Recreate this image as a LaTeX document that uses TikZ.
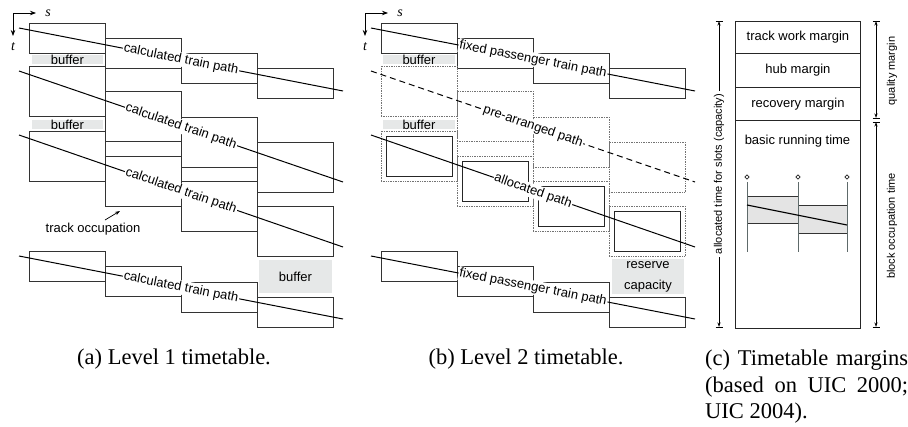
\documentclass[tikz,border=0pt]{standalone}
\usepackage{fontspec}
\setmainfont{Liberation Serif}
\newfontfamily\lab{Liberation Sans}
\usetikzlibrary{arrows.meta,shapes.geometric,calc}
\definecolor{bufgray}{HTML}{E6E8E8}
\definecolor{boxgray}{HTML}{E4E4E4}
\definecolor{slate}{HTML}{5E6A6A}
\newcommand\blkrow[5]{\foreach \yt [count=\i] in {#5}{\node[#2, minimum height=#3pt] (#1\i) at ({#4+29+76*(\i-1)},\yt) {};}}
\begin{document}
\begin{tikzpicture}[x=1pt,y=-1pt,
  lf/.style={font=\lab\fontsize{13}{15}\selectfont},
  sf/.style={font=\lab\fontsize{11}{13}\selectfont},
  cf/.style={font=\fontsize{22.5}{27}\selectfont},
  itf/.style={font=\itshape\fontsize{14}{16}\selectfont, inner sep=0pt},
  blk/.style={draw=black!80, line width=0.9pt, minimum width=76pt, inner sep=0pt, outer sep=0pt, anchor=north west},
  dotblk/.style={draw=black!55, densely dotted, line width=0.7pt, minimum width=76pt, inner sep=0pt, outer sep=0pt, anchor=north west},
  inblk/.style={draw=black!85, line width=0.9pt, minimum width=66pt, minimum height=40.5pt, inner sep=0pt},
  tpath/.style={line width=1pt, black},
  lbl/.style={lf, fill=white, inner sep=1pt, sloped, pos=0.5},
  buf/.style={lf, fill=bufgray, inner sep=0pt, text height=9pt, text depth=0pt},
  axis/.style={-{Stealth[length=6pt,width=4.5pt]}, line width=0.8pt},
  dimarrow/.style={{Stealth[length=4.5pt,width=3pt]}-{Stealth[length=4.5pt,width=3pt]}, line width=0.8pt},
  barline/.style={line width=0.8pt},
  mk/.style={diamond, draw=black!85, fill=white, line width=0.7pt, minimum size=4.5pt, inner sep=0pt},
  cbox/.style={draw=black!85, line width=0.9pt, minimum width=125pt, anchor=north west, inner sep=0pt, lf},
]
\fill[white] (0,0) rectangle (908,426);
\useasboundingbox (0,0) rectangle (908,426);

% ================= panel (a)
\coordinate (ao) at (13,13); \coordinate (aox) at (36,13); \coordinate (aoy) at (13,36);
\draw[axis] (ao) -- (aox);
\draw[axis] (ao) -- (aoy);
\node[itf] (as) at (48,13) {s};
\node[itf] (at) at (13,47) {t};

\node[buf, minimum width=71pt, minimum height=9pt] (abuf1) at (67.5,59.5) {buffer};
\node[buf, minimum width=71pt, minimum height=9pt] (abuf2) at (67.5,124.5) {buffer};
\node[buf, minimum width=73pt, minimum height=33pt] (abuf3) at (295.5,276.5) {buffer};

\blkrow{a1}{blk}{30}{0}{23,38,53,68}
\blkrow{a2}{blk}{50.5}{0}{66,91,117,142}
\blkrow{a3}{blk}{50.5}{0}{131,156,181,206}
\blkrow{a4}{blk}{30}{0}{251,266,282,297}

\coordinate (a1s) at (19,28);  \coordinate (a1e) at (343,91);
\coordinate (a2s) at (19,71);  \coordinate (a2e) at (343,182);
\coordinate (a3s) at (19,135); \coordinate (a3e) at (343,247);
\coordinate (a4s) at (19,256); \coordinate (a4e) at (343,319);
\draw[tpath] (a1s) -- node[lbl]{calculated train path} (a1e);
\draw[tpath] (a2s) -- node[lbl]{calculated train path} (a2e);
\draw[tpath] (a3s) -- node[lbl]{calculated train path} (a3e);
\draw[tpath] (a4s) -- node[lbl]{calculated train path} (a4e);

\node[lf] (aocc) at (93,229) {track occupation};
\coordinate (aot) at (105,220); \coordinate (aoh) at (120,211);
\draw[-{Stealth[length=5pt,width=3.5pt]}, line width=0.7pt] (aot) -- (aoh);

\node[cf, anchor=base] (acap) at (174,364) {(a) Level 1 timetable.};

% ================= panel (b)
\coordinate (bo) at (365,13); \coordinate (box) at (388,13); \coordinate (boy) at (365,36);
\draw[axis] (bo) -- (box);
\draw[axis] (bo) -- (boy);
\node[itf] (bs) at (400,13) {s};
\node[itf] (bt) at (365,47) {t};

\node[buf, minimum width=72pt, minimum height=9pt] (bbuf1) at (419,59.5) {buffer};
\node[buf, minimum width=72pt, minimum height=9pt] (bbuf2) at (419,124.5) {buffer};
\node[fill=bufgray, minimum width=72pt, minimum height=35pt, inner sep=0pt, align=center, font=\lab\fontsize{13}{21}\selectfont] (bres) at (648,276.5) {reserve\\capacity};

\blkrow{b1}{blk}{30}{352}{23,38,53,68}
\blkrow{b2}{dotblk}{50.5}{352}{66,91,117,142}
\blkrow{b3}{dotblk}{50.5}{352}{131,156,181,206}
\foreach \i in {1,...,4}{\node[inblk] (bi\i) at (b3\i.center) {};}
\blkrow{b4}{blk}{30}{352}{251,266,282,297}

\coordinate (b1s) at (371,28);  \coordinate (b1e) at (695,91);
\coordinate (b2s) at (371,71);  \coordinate (b2e) at (695,182);
\coordinate (b3s) at (371,135); \coordinate (b3e) at (695,247);
\coordinate (b4s) at (371,256); \coordinate (b4e) at (695,319);
\draw[tpath] (b1s) -- node[lbl]{fixed passenger train path} (b1e);
\draw[tpath, dash pattern=on 6pt off 4pt] (b2s) -- node[lbl]{pre-arranged path} (b2e);
\draw[tpath] (b3s) -- node[lbl]{allocated path} (b3e);
\draw[tpath] (b4s) -- node[lbl]{fixed passenger train path} (b4e);

\node[cf, anchor=base] (bcap) at (526,364) {(b) Level 2 timetable.};

% ================= panel (c)
\node[cbox, minimum height=32pt] (ctw) at (735,21) {track work margin};
\node[cbox, minimum height=34pt] (chub) at (735,53) {hub margin};
\node[cbox, minimum height=33pt] (crec) at (735,87) {recovery margin};
\node[cbox, minimum height=208pt] (cbrt) at (735,120) {};
\node[lf] (cbrtt) at (797.5,141) {basic running time};

\node[fill=boxgray, draw=black!80, line width=0.8pt, minimum width=51pt, minimum height=27pt, anchor=north west, inner sep=0pt] (cg1) at (747,196) {};
\node[fill=boxgray, draw=black!80, line width=0.8pt, minimum width=49pt, minimum height=28pt, anchor=north west, inner sep=0pt] (cg2) at (798,205) {};
\coordinate (cv1t) at (747,182); \coordinate (cv1b) at (747,252);
\coordinate (cv2t) at (798,182); \coordinate (cv2b) at (798,252);
\coordinate (cv3t) at (847,182); \coordinate (cv3b) at (847,252);
\draw[slate, line width=0.8pt] (cv1t) -- (cv1b);
\draw[slate, line width=0.8pt] (cv2t) -- (cv2b);
\draw[slate, line width=0.8pt] (cv3t) -- (cv3b);
\node[mk] (cm1) at (747,177) {};
\node[mk] (cm2) at (798,177) {};
\node[mk] (cm3) at (847,177) {};
\coordinate (cls) at (747,205); \coordinate (cle) at (847,225);
\draw[line width=1.1pt] (cls) -- (cle);

% dimension lines
\coordinate (dlt) at (719,21); \coordinate (dlb) at (719,327);
\draw[dimarrow] (dlt) -- node[sf, fill=white, rotate=90, inner sep=3pt] (dltx) {allocated time for slots (capacity)} (dlb);
\draw[barline] ($(dlt)+(-3.5,0)$) -- ($(dlt)+(3.5,0)$);
\draw[barline] ($(dlb)+(-3.5,0)$) -- ($(dlb)+(3.5,0)$);

\coordinate (drt) at (876,21); \coordinate (drm1) at (876,118);
\coordinate (drm2) at (876,122); \coordinate (drb) at (876,327);
\draw[dimarrow] (drt) -- (drm1);
\draw[dimarrow] (drm2) -- (drb);
\draw[barline] ($(drt)+(-3.5,0)$) -- ($(drt)+(3.5,0)$);
\draw[barline] ($(drm1)+(-3.5,0)$) -- ($(drm1)+(3.5,0)$);
\draw[barline] ($(drm2)+(-3.5,0)$) -- ($(drm2)+(3.5,0)$);
\draw[barline] ($(drb)+(-3.5,0)$) -- ($(drb)+(3.5,0)$);
\node[sf, rotate=90] (cq) at (892,71) {quality margin};
\node[sf, rotate=90] (cbo) at (892,226) {block occupation time};

\node[cf, anchor=base west, inner sep=0pt] (cc1) at (705,365.5) {\makebox[203pt][s]{(c) Timetable margins}};
\node[cf, anchor=base west, inner sep=0pt] (cc2) at (705,392) {\makebox[203pt][s]{(based on UIC 2000;}};
\node[cf, anchor=base west, inner sep=0pt] (cc3) at (705,418.5) {UIC 2004).};
\end{tikzpicture}
\end{document}
